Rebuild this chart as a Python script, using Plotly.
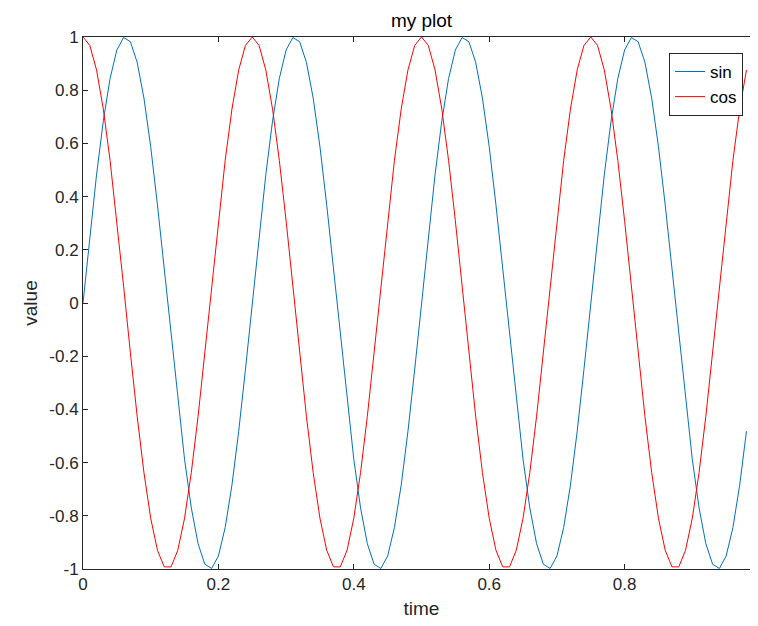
import plotly.graph_objects as go

time = [round(0.01 * i, 2) for i in range(99)]

sin_vals = [
 0, 0.2487, 0.4818, 0.6845, 0.8443, 0.9511, 0.9980, 0.9823, 0.9048, 0.7705, 0.5878, 0.3681, 0.1253,
 -0.1253, -0.3681, -0.5878, -0.7705, -0.9048, -0.9823, -0.9980, -0.9511, -0.8443, -0.6845, -0.4818, -0.2487,
 0, 0.2487, 0.4818, 0.6845, 0.8443, 0.9511, 0.9980, 0.9823, 0.9048, 0.7705, 0.5878, 0.3681, 0.1253,
 -0.1253, -0.3681, -0.5878, -0.7705, -0.9048, -0.9823, -0.9980, -0.9511, -0.8443, -0.6845, -0.4818, -0.2487,
 0, 0.2487, 0.4818, 0.6845, 0.8443, 0.9511, 0.9980, 0.9823, 0.9048, 0.7705, 0.5878, 0.3681, 0.1253,
 -0.1253, -0.3681, -0.5878, -0.7705, -0.9048, -0.9823, -0.9980, -0.9511, -0.8443, -0.6845, -0.4818, -0.2487,
 0, 0.2487, 0.4818, 0.6845, 0.8443, 0.9511, 0.9980, 0.9823, 0.9048, 0.7705, 0.5878, 0.3681, 0.1253,
 -0.1253, -0.3681, -0.5878, -0.7705, -0.9048, -0.9823, -0.9980, -0.9511, -0.8443, -0.6845, -0.4818,
]

cos_vals = [
 1, 0.9686, 0.8763, 0.7290, 0.5358, 0.3090, 0.0628, -0.1874, -0.4258, -0.6374, -0.8090, -0.9298, -0.9921,
 -0.9921, -0.9298, -0.8090, -0.6374, -0.4258, -0.1874, 0.0628, 0.3090, 0.5358, 0.7290, 0.8763, 0.9686,
 1, 0.9686, 0.8763, 0.7290, 0.5358, 0.3090, 0.0628, -0.1874, -0.4258, -0.6374, -0.8090, -0.9298, -0.9921,
 -0.9921, -0.9298, -0.8090, -0.6374, -0.4258, -0.1874, 0.0628, 0.3090, 0.5358, 0.7290, 0.8763, 0.9686,
 1, 0.9686, 0.8763, 0.7290, 0.5358, 0.3090, 0.0628, -0.1874, -0.4258, -0.6374, -0.8090, -0.9298, -0.9921,
 -0.9921, -0.9298, -0.8090, -0.6374, -0.4258, -0.1874, 0.0628, 0.3090, 0.5358, 0.7290, 0.8763, 0.9686,
 1, 0.9686, 0.8763, 0.7290, 0.5358, 0.3090, 0.0628, -0.1874, -0.4258, -0.6374, -0.8090, -0.9298, -0.9921,
 -0.9921, -0.9298, -0.8090, -0.6374, -0.4258, -0.1874, 0.0628, 0.3090, 0.5358, 0.7290, 0.8763,
]

x_ticks = [0, 0.2, 0.4, 0.6, 0.8, 1]
x_labels = ["0", "0.2", "0.4", "0.6", "0.8", "1"]
y_ticks = [-1, -0.8, -0.6, -0.4, -0.2, 0, 0.2, 0.4, 0.6, 0.8, 1]
y_labels = ["-1", "-0.8", "-0.6", "-0.4", "-0.2", "0", "0.2", "0.4", "0.6", "0.8", "1"]

fig = go.Figure()
fig.add_trace(go.Scatter(x=time, y=sin_vals, mode="lines", name="sin",
                         line=dict(color="#0072BD", width=1)))
fig.add_trace(go.Scatter(x=time, y=cos_vals, mode="lines", name="cos",
                         line=dict(color="#FF0000", width=1)))

axis_common = dict(showgrid=False, zeroline=False, showline=True, linecolor="#262626",
                   linewidth=1, mirror="ticks", ticks="inside", ticklen=5,
                   tickcolor="#262626", tickfont=dict(size=17, color="#262626"),
                   automargin=False)

fig.update_layout(
    width=758, height=626,
    margin=dict(l=75, r=6, t=29, b=65),
    paper_bgcolor="white", plot_bgcolor="white",
    font=dict(family="Liberation Sans, Arial, sans-serif", color="#262626"),
    title=dict(text="my plot", x=0.5, xanchor="center", xref="paper",
               y=1 - 12 / 626, yanchor="middle", automargin=False,
               font=dict(size=19, color="black")),
    xaxis=dict(range=[0, 1], tickvals=x_ticks, ticktext=x_labels,
               title=dict(text="time", font=dict(size=19), standoff=8), **axis_common),
    yaxis=dict(range=[-1, 1], tickvals=y_ticks, ticktext=y_labels,
               title=dict(text="value", font=dict(size=19), standoff=6), **axis_common),
    legend=dict(x=0.975, y=0.97, xanchor="right", yanchor="top",
                bgcolor="white", bordercolor="#262626", borderwidth=1,
                font=dict(size=17, color="black"), tracegroupgap=0),
    showlegend=True,
)

fig.write_html("out.html")
